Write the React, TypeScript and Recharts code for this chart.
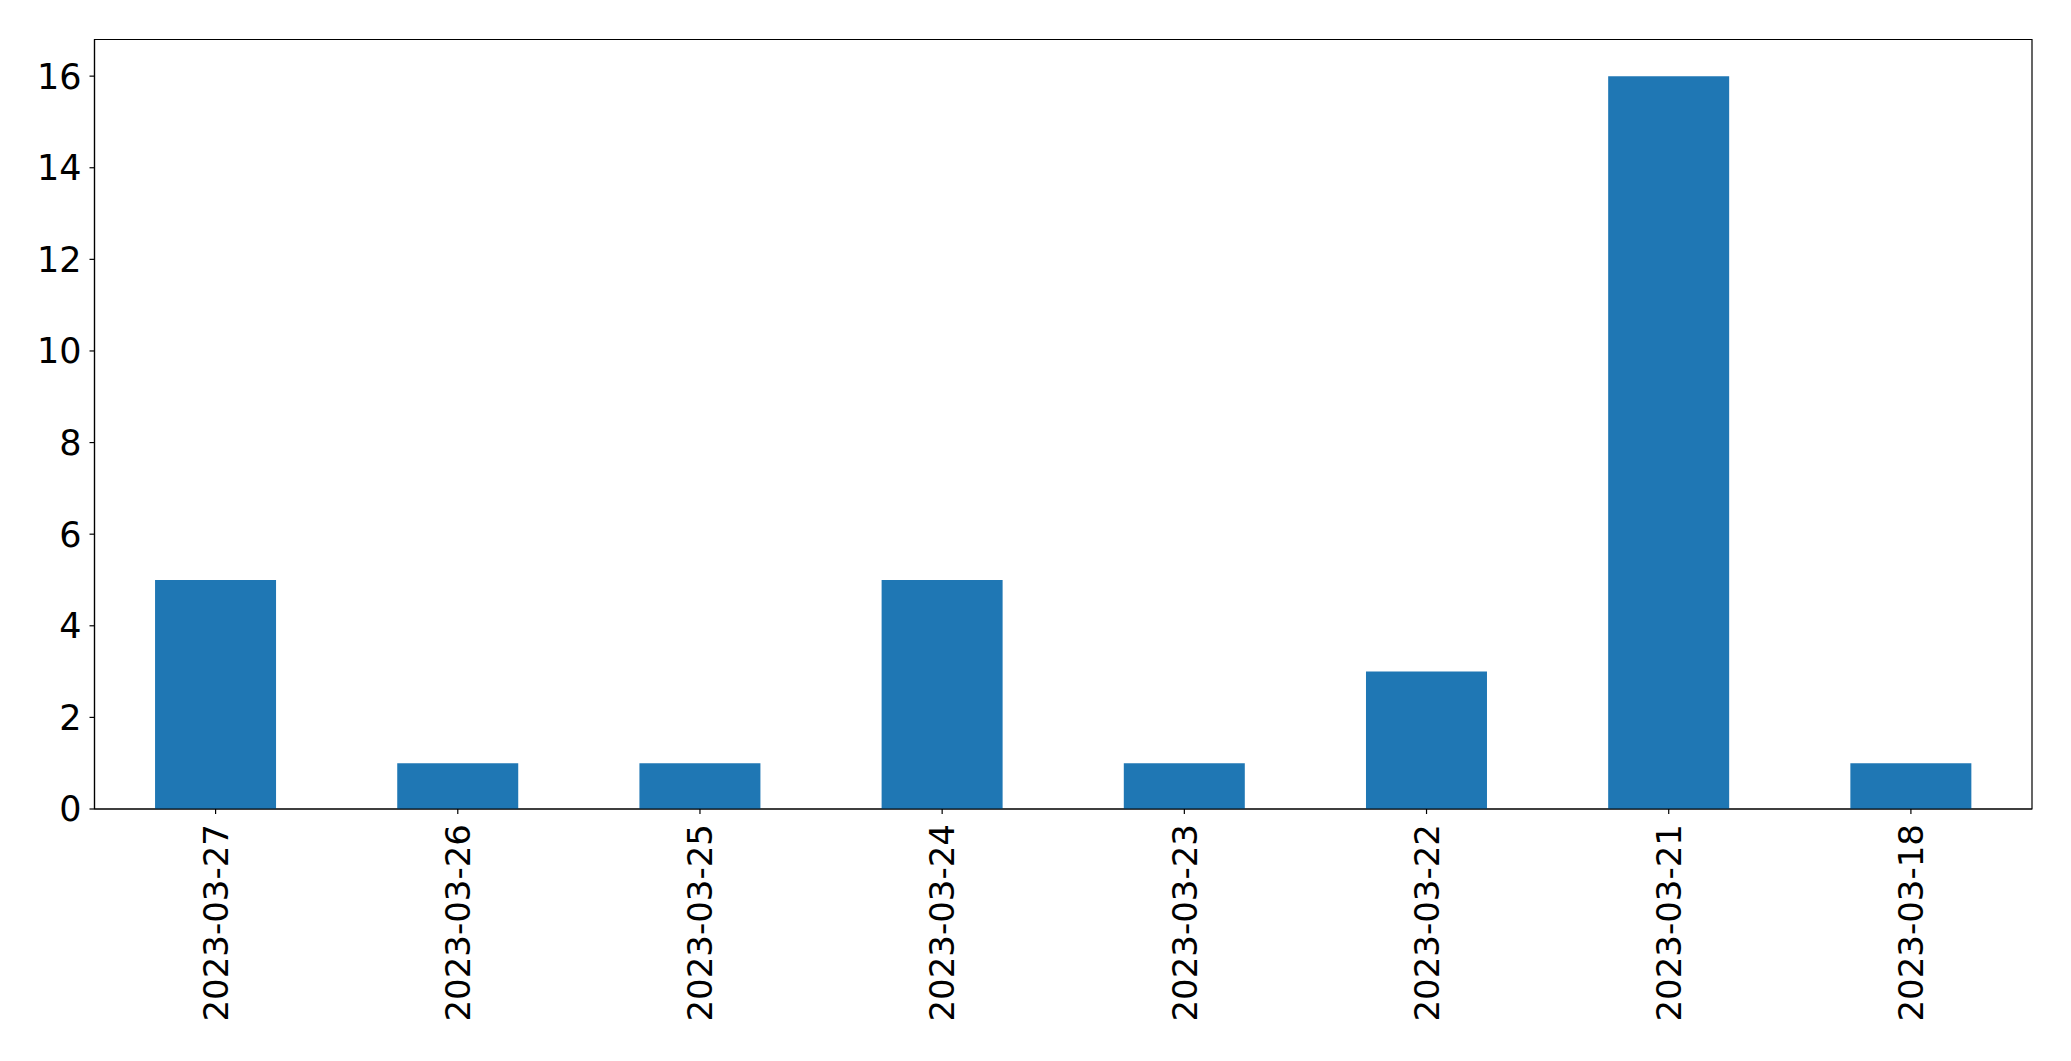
import React from 'react';
import { BarChart, Bar, XAxis, YAxis, ReferenceArea } from 'recharts';

const categories = ['2023-03-27', '2023-03-26', '2023-03-25', '2023-03-24', '2023-03-23', '2023-03-22', '2023-03-21', '2023-03-18'];
const counts = [5, 1, 1, 5, 1, 3, 16, 1];
const yTicks = [0, 2, 4, 6, 8, 10, 12, 14, 16];

const data = categories.map((c, i) => ({ date: c, count: counts[i] }));

const FONT = '"DejaVu Sans", sans-serif';

const XTick = (props: any) => {
  const { x, y, payload } = props;
  return (
    <text
      x={x}
      y={y}
      transform={`rotate(-90, ${x}, ${y})`}
      textAnchor="end"
      dy="0.36em"
      fontSize={34}
      fontFamily={FONT}
      fill="#000"
    >
      {payload.value}
    </text>
  );
};

export default function App() {
  return (
    <div style={{ position: 'absolute', left: 0, top: 0, background: '#fff' }}>
      <BarChart
        width={2071}
        height={1061}
        data={data}
        margin={{ top: 39.5, right: 39, left: 0, bottom: 0 }}
        barCategoryGap="25%"
      >
        <ReferenceArea y1={0} y2={16.8} fill="none" stroke="#000" strokeWidth={1.2} ifOverflow="visible" />
        <XAxis
          dataKey="date"
          height={252}
          interval={0}
          tickSize={5}
          tickMargin={10}
          tick={<XTick />}
          axisLine={{ stroke: '#000', strokeWidth: 1.2 }}
          tickLine={{ stroke: '#000', strokeWidth: 1.2 }}
        />
        <YAxis
          width={94.5}
          domain={[0, 16.8]}
          ticks={yTicks}
          interval={0}
          tickSize={5}
          tickMargin={8}
          tick={{ fontSize: 35, fontFamily: FONT, fill: '#000' }}
          axisLine={{ stroke: '#000', strokeWidth: 1.2 }}
          tickLine={{ stroke: '#000', strokeWidth: 1.2 }}
        />
        <Bar dataKey="count" fill="#1f77b4" isAnimationActive={false} />
      </BarChart>
    </div>
  );
}
